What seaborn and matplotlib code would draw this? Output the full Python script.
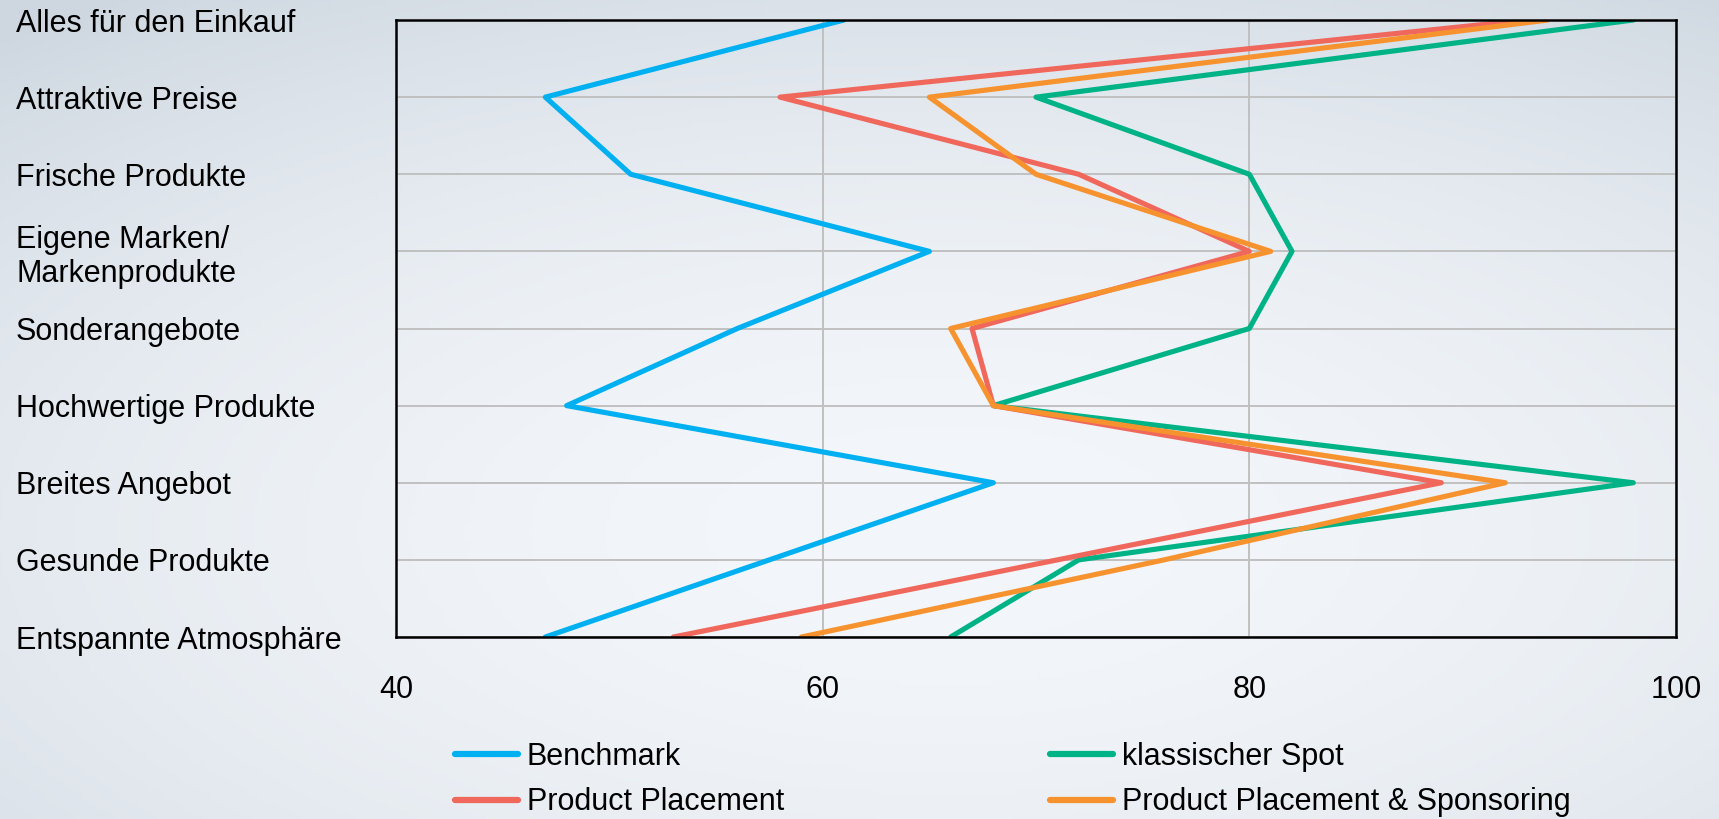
import numpy as np
import pandas as pd
import matplotlib
matplotlib.use("Agg")
import matplotlib.pyplot as plt
import seaborn as sns

# Survey categories (top to bottom)
categories = [
    "Alles für den Einkauf",
    "Attraktive Preise",
    "Frische Produkte",
    "Eigene Marken/\nMarkenprodukte",
    "Sonderangebote",
    "Hochwertige Produkte",
    "Breites Angebot",
    "Gesunde Produkte",
    "Entspannte Atmosphäre",
]

benchmark = [61, 47, 51, 65, 56, 48, 68, 57.5, 47]
klassischer_spot = [98, 70, 80, 82, 80, 68, 98, 72, 66]
product_placement = [93, 58, 72, 80, 67, 68, 89, 71, 53]
pp_sponsoring = [94, 65, 70, 81, 66, 68, 92, 76, 59]

series_names = ["Benchmark", "klassischer Spot", "Product Placement",
                "Product Placement & Sponsoring"]
series_values = [benchmark, klassischer_spot, product_placement, pp_sponsoring]
series_colors = ["#00B0F0", "#00B386", "#F0675C", "#F7932F"]

x_ticks = [40, 60, 80, 100]

rows = []
for name, vals in zip(series_names, series_values):
    for i, v in enumerate(vals):
        rows.append({"series": name, "pos": i, "value": v})
df = pd.DataFrame(rows)

sns.set_theme(style="white")
plt.rcParams["font.family"] = ["Liberation Sans", "DejaVu Sans"]
plt.rcParams["text.color"] = "black"
plt.rcParams["xtick.color"] = "black"
plt.rcParams["ytick.color"] = "black"

W, H, DPI = 1719, 819, 100
fig = plt.figure(figsize=(W / DPI, H / DPI), dpi=DPI)

# soft radial backdrop
bg = fig.add_axes([0, 0, 1, 1], zorder=-10)
yy, xx = np.mgrid[0:1:200j, 0:1:400j]
r = np.sqrt(((xx - 0.55) / 0.85) ** 2 + ((yy - 0.65) / 0.8) ** 2)
r = np.clip(r, 0, 1)
inner = np.array([0xF3, 0xF6, 0xFA]) / 255
outer = np.array([0xCE, 0xD7, 0xE0]) / 255
t = r[..., None] ** 2.0
img = inner[None, None, :] * (1 - t) + outer[None, None, :] * t
bg.imshow(img, aspect="auto", extent=[0, 1, 0, 1], origin="upper")
bg.axis("off")

ax = fig.add_axes([396 / W, 1 - 637 / H, (1676 - 396) / W, (637 - 20) / H])
ax.set_facecolor("none")

sns.lineplot(
    data=df, x="value", y="pos", hue="series", hue_order=series_names,
    palette=series_colors, orient="y", sort=False, estimator=None,
    linewidth=3.7, ax=ax, legend=False,
)

ax.set_xlim(40, 100)
ax.set_ylim(len(categories) - 1, 0)
ax.set_xticks(x_ticks)
ax.set_xticklabels([str(t) for t in x_ticks], fontsize=22)
ax.set_yticks(range(len(categories)))
ax.set_yticklabels(categories, fontsize=22, ha="left")
ax.tick_params(axis="y", length=0, pad=(396 - 16) * 72 / DPI)
ax.tick_params(axis="x", length=0, pad=27)
ax.set_xlabel("")
ax.set_ylabel("")

ax.grid(True, color="#C0C0C0", linewidth=1.4)
ax.set_axisbelow(True)
for s in ax.spines.values():
    s.set_visible(True)
    s.set_color("#000000")
    s.set_linewidth(1.8)

# legend: two columns
handles = [plt.Line2D([], [], color=c, linewidth=4.5) for c in series_colors]
order = [0, 2, 1, 3]
fig.legend(
    [handles[i] for i in order], [series_names[i] for i in order],
    ncol=2, loc="upper left", bbox_to_anchor=(455 / W, 1 - 742 / H),
    frameon=False, fontsize=22, handlelength=2.05, handletextpad=0.3,
    columnspacing=8.7, labelspacing=0.5, borderpad=0, borderaxespad=0,
)

fig.savefig("out.png", dpi=DPI)
